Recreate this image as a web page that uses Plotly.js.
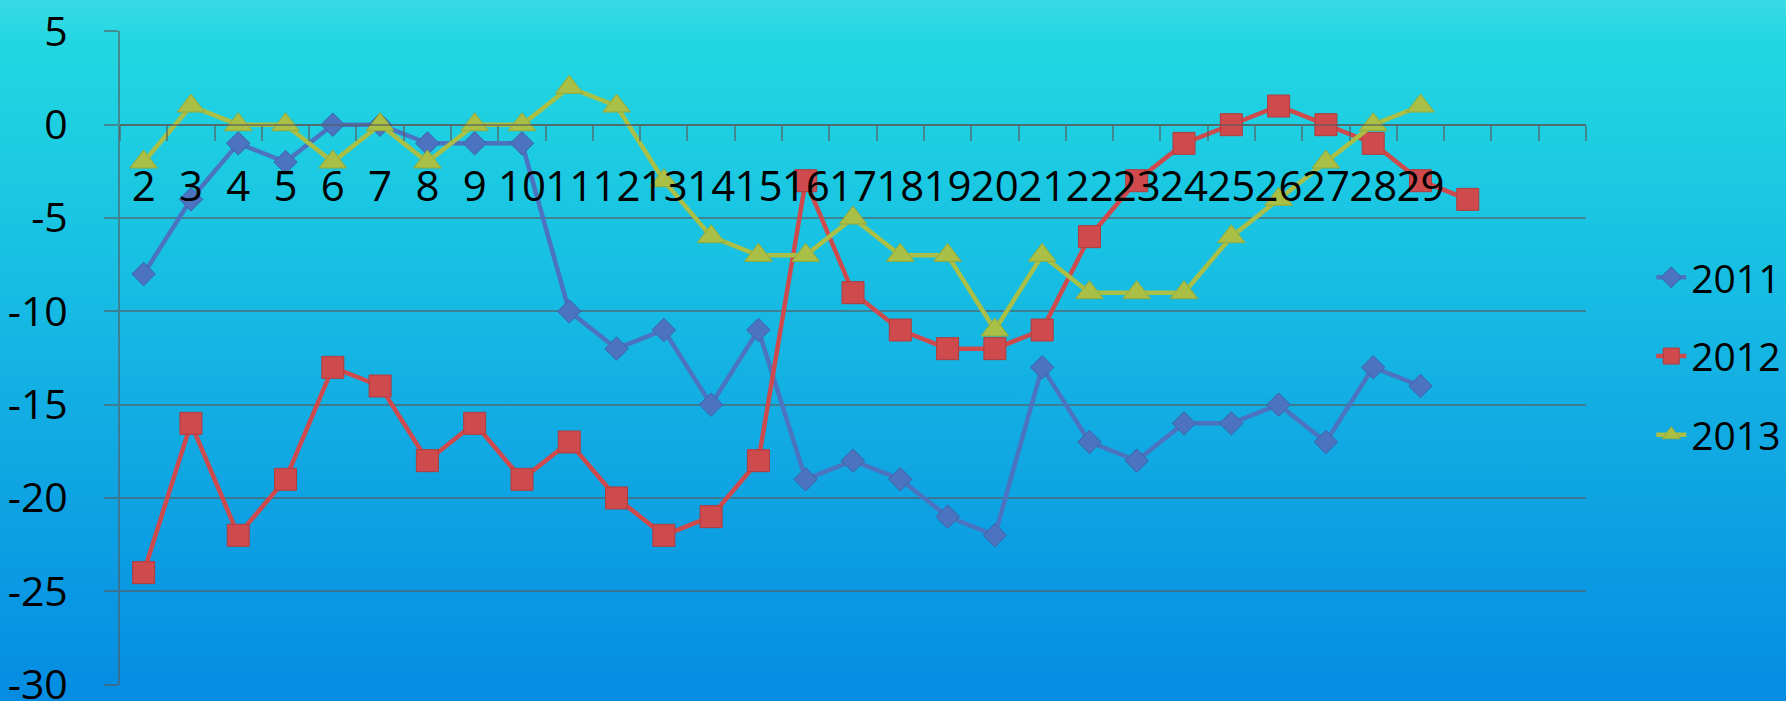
<!DOCTYPE html>
<html>
<head>
<meta charset="utf-8">
<script src="https://cdn.plot.ly/plotly-3.0.1.min.js"></script>
<style>
  html, body { margin: 0; padding: 0; }
  body {
    width: 1786px; height: 701px; overflow: hidden;
    background: linear-gradient(to bottom, #3adae6 0%, #22d7e1 6%, #18c2e3 35%, #12acE3 60%, #058ce2 100%);
  }
  #chart { width: 1786px; height: 701px; }
</style>
</head>
<body>
<div id="chart"></div>
<script>
// Category slots along the x axis (the last three carry no label)
const days = [2, 3, 4, 5, 6, 7, 8, 9, 10, 11, 12, 13, 14, 15, 16, 17, 18, 19, 20,
              21, 22, 23, 24, 25, 26, 27, 28, 29, 30, 31, 32];
const dayLabels = ['2', '3', '4', '5', '6', '7', '8', '9', '10', '11', '12', '13', '14', '15',
                   '16', '17', '18', '19', '20', '21', '22', '23', '24', '25', '26', '27', '28', '29',
                   '', '', ''];

const series2011 = [-8, -4, -1, -2, 0, 0, -1, -1, -1, -10, -12, -11, -15, -11, -19, -18, -19,
                    -21, -22, -13, -17, -18, -16, -16, -15, -17, -13, -14];
const series2012 = [-24, -16, -22, -19, -13, -14, -18, -16, -19, -17, -20, -22, -21, -18, -3,
                    -9, -11, -12, -12, -11, -6, -3, -1, 0, 1, 0, -1, -3, -4];
const series2013 = [-2, 1, 0, 0, -2, 0, -2, 0, 0, 2, 1, -3, -6, -7, -7, -5, -7, -7, -11, -7,
                    -9, -9, -9, -6, -4, -2, 0, 1];

const seriesNames = ['2011', '2012', '2013'];
const yTicks = [5, 0, -5, -10, -15, -20, -25, -30];

const FONT = '"Open Sans", "Noto Sans", sans-serif';
const GRID = 'rgba(90,90,90,0.6)';
const FS = 42;

function lineTrace(name, values, color, edge, symbol, size) {
  return {
    type: 'scatter',
    mode: 'lines+markers',
    name: name,
    legendgroup: name,
    x: days.slice(0, values.length),
    y: values,
    line: { color: color, width: 4.5 },
    marker: { symbol: symbol, size: size, color: color, line: { color: edge, width: 1 } },
    hoverinfo: 'x+y'
  };
}

const traces = [
  lineTrace(seriesNames[0], series2011, '#4b73c0', '#3d62a8', 'diamond', 18),
  lineTrace(seriesNames[1], series2012, '#cf4a4c', '#b23c3e', 'square', 22),
  lineTrace(seriesNames[2], series2013, '#a9bf46', '#94a93a', 'triangle-up', 24)
];

// boundaries between category slots, where the small axis ticks sit
const boundaries = days.map(d => d - 0.5).concat([days[days.length - 1] + 0.5]);
const yMin = Math.min(...yTicks), yMax = Math.max(...yTicks);
// a hair of slack so the outermost gridlines and labels are kept
const pad = 0.02;

const layout = {
  width: 1786,
  height: 701,
  paper_bgcolor: 'rgba(0,0,0,0)',
  plot_bgcolor: 'rgba(0,0,0,0)',
  margin: { l: 120, r: 200, t: 31, b: 16, pad: 0, autoexpand: false },
  font: { family: FONT, size: FS, color: '#000000' },
  showlegend: true,
  legend: {
    x: 1.0445, xanchor: 'left',
    y: 0.672, yanchor: 'top',
    bgcolor: 'rgba(0,0,0,0)',
    font: { family: FONT, size: 39, color: '#000000' },
    traceorder: 'grouped',
    tracegroupgap: 25,
    itemwidth: 30
  },
  xaxis: {
    type: 'linear',
    range: [boundaries[0], boundaries[boundaries.length - 1]],
    anchor: 'free',
    position: (0 - (yMin - pad)) / (yMax - yMin + 2 * pad),
    showgrid: false,
    zeroline: false,
    showline: true,
    linecolor: GRID,
    linewidth: 2,
    tickmode: 'array',
    tickvals: days,
    ticktext: dayLabels,
    tickangle: 0,
    ticks: '',
    ticklabelstandoff: 25,
    ticklabeloverflow: 'allow',
    automargin: false,
    tickfont: { family: FONT, size: FS, color: '#000000' },
    minor: {
      tickmode: 'array',
      tickvals: boundaries,
      ticks: 'outside',
      ticklen: 15,
      tickwidth: 2,
      tickcolor: GRID,
      showgrid: false
    },
    fixedrange: true
  },
  yaxis: {
    range: [yMin - pad, yMax + pad],
    tickmode: 'array',
    tickvals: yTicks,
    ticktext: yTicks.map(String),
    showgrid: true,
    gridcolor: GRID,
    gridwidth: 2,
    zeroline: false,
    showline: true,
    linecolor: GRID,
    linewidth: 2,
    ticks: 'outside',
    ticklen: 14,
    tickwidth: 2,
    tickcolor: GRID,
    ticklabelstandoff: 28,
    ticklabeloverflow: 'allow',
    automargin: false,
    tickfont: { family: FONT, size: 41, color: '#000000' },
    fixedrange: true
  }
};

Plotly.newPlot('chart', traces, layout, { displayModeBar: false, staticPlot: true });
</script>
</body>
</html>
